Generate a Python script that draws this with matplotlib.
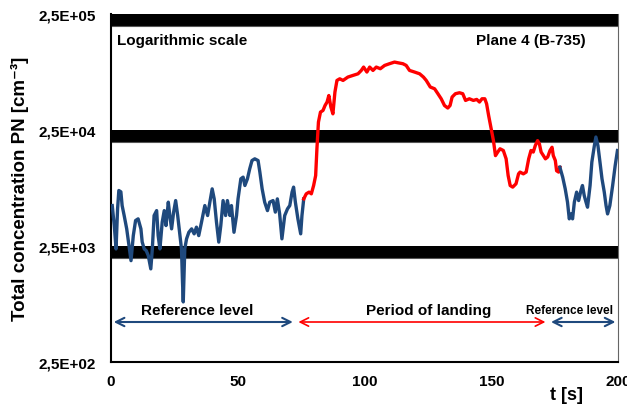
import numpy as np
from matplotlib import pyplot as plt

# reference level before landing
t_ref1 = [0.5, 1.3, 2.0, 2.6, 3.1, 3.9, 4.4, 5.2, 6.2, 7.1,
          7.9, 8.8, 9.7, 10.7, 11.8, 12.3, 13.1, 13.9, 14.7, 15.7,
          16.3, 17.0, 18.0, 18.6, 19.3, 20.2, 21.0, 21.7, 22.6, 23.2,
          23.9, 24.7, 25.5, 26.3, 27.2, 27.8, 28.2, 28.5, 29.1, 29.8,
          30.7, 31.8, 32.8, 33.7, 34.6, 35.7,
          37.0, 38.1, 39.0, 39.9, 40.7, 41.6, 42.5, 43.3, 44.2, 45.2,
          45.9, 46.9, 47.5, 48.5, 49.5, 50.1, 51.2, 52.1, 52.8, 53.8,
          54.7, 55.6, 56.7, 58.0, 58.7, 59.6, 60.6, 61.7, 62.6, 63.9,
          64.8, 65.6, 66.5, 67.4, 68.5, 69.6, 70.5, 71.4, 72.0, 72.7,
          73.7, 74.8, 75.3, 76.0]
n_ref1 = [5560, 3735, 2350, 5210, 7500, 7300, 5560, 4560, 3500, 2510,
          1860, 3060, 4130, 4270, 3500, 2700, 2350, 2270, 2060, 1580,
          2350, 4560, 5030, 3060, 2350, 4000, 5030, 3735, 5950, 4560,
          3500, 4880, 6140, 4560, 3060, 2350, 1220, 820, 2350, 2870,
          3270, 3500, 3170, 3620, 3060, 4000,
          5560, 4560, 5980, 7750, 6350, 4000, 2690, 3735, 6140, 4560,
          6140, 4560, 5560, 3270, 4560, 6350, 9460, 9780, 8280, 9460,
          11530, 13600, 14070, 13600, 10810, 7750, 5950, 5030, 5950, 6140,
          4880, 6350, 4710, 2870, 4560, 5210, 5560, 7260, 8020, 5950,
          4270, 3170, 4560, 6350]

# period of landing
t_land = [76.0, 77.0, 78.1, 79.0, 79.9, 80.7, 81.2, 81.8, 82.6, 83.6,
          84.4, 85.2, 85.9, 86.7, 87.5, 88.3, 89.1, 90.2, 91.5, 93.4,
          95.4, 97.4, 98.7, 99.6, 100.9, 102.0, 103.3, 104.6, 106.2, 107.9,
          109.8, 111.8, 113.1, 115.1, 116.4, 117.7, 119.7, 121.7, 123.2, 124.3,
          125.9, 127.6, 128.9, 130.2, 131.5, 132.8, 133.7, 134.5, 135.8, 137.4,
          138.7, 139.8, 141.3, 142.9, 144.2, 145.3, 146.3, 147.4, 148.1, 148.9,
          149.9, 150.8, 151.6, 152.5, 153.4, 154.7, 155.8, 156.6, 157.4, 158.4,
          159.7, 160.7, 161.3, 162.6, 163.7, 164.7, 165.6, 166.5, 167.3, 168.2,
          168.9, 169.6, 170.5, 171.3, 172.2, 173.1, 173.9, 174.4, 175.2, 175.7,
          176.5, 177.0]
n_land = [6350, 7020, 7260, 7020, 8280, 10090, 17180, 29200, 35600, 36800,
          40600, 43500, 49500, 39400, 34400, 53000, 66800, 69000, 66800, 71400,
          73800, 76200, 81500, 87100, 78900, 87100, 81500, 87100, 84300, 90000,
          93100, 96200, 94900, 93100, 90000, 81500, 78900, 76200, 71400, 66800,
          58600, 56600, 51300, 46400, 40600, 38600, 40600, 48000, 51300, 52300,
          51300, 44900, 46400, 44900, 45800, 43500, 46400, 46400, 42000, 33300,
          25600, 20200, 15000, 16100, 17180, 16600, 14070, 10090, 8280, 8020,
          8570, 10440, 10810, 10440, 10810, 14070, 16600, 16100, 18300, 20200,
          19000, 16100, 15000, 14070, 14600, 16600, 17700, 15000, 13600, 11100,
          10810, 11900]

# reference level after landing
t_ref2 = [177.0, 178.1, 179.1, 180.0, 180.7, 181.4, 182.0, 182.7, 183.6, 184.4,
          185.3, 185.9, 186.6, 187.3, 187.9, 188.9, 189.6, 190.6, 191.2, 192.0,
          192.8, 193.6, 194.5, 195.2, 195.8, 196.7, 197.8, 198.8, 199.7]
n_ref2 = [11900, 9780, 7750, 5950, 4270, 4710, 4270, 5950, 7260, 6140,
          7500, 8280, 6780, 5950, 5380, 8280, 13200, 18300, 21700, 18300,
          13200, 9460, 7260, 5560, 4710, 5560, 8280, 12300, 16600]

y_ticks = [2.5e2, 2.5e3, 2.5e4, 2.5e5]
y_ticklabels = ['2,5E+02', '2,5E+03', '2,5E+04', '2,5E+05']
x_ticks = [0, 50, 100, 150, 200]

azul = '#1F497D'
rojo = '#FF0000'

plt.rcParams['font.family'] = ['Liberation Sans', 'DejaVu Sans']
plt.rcParams['font.weight'] = 'bold'

fig = plt.figure(figsize=(6.27, 4.10), dpi=100)
ax = fig.add_axes([0.177, 0.1154, 0.809, 0.848])
ax.set_yscale('log')
ax.set_xlim(0, 200)
ax.set_ylim(250, 250000)

# bandas negras en cada decada
for v in y_ticks[1:]:
    ax.axhspan(v * 0.783, v, color='black', lw=0, zorder=1)
    ax.axhline(v * 0.783, color='#555555', lw=0.8, zorder=1)

ax.plot(t_ref1, n_ref1, color=azul, lw=2.4, zorder=3, solid_joinstyle='round')
ax.plot(t_land, n_land, color=rojo, lw=2.4, zorder=3, solid_joinstyle='round')
ax.plot(t_ref2, n_ref2, color=azul, lw=2.4, zorder=3, solid_joinstyle='round')

ax.set_xticks(x_ticks)
ax.set_xticklabels([str(x) for x in x_ticks], fontsize=11, fontweight='bold')
ax.set_yticks(y_ticks)
ax.set_yticklabels(y_ticklabels, fontsize=11, fontweight='bold')
ax.yaxis.set_minor_locator(plt.NullLocator())
ax.tick_params(axis='both', length=0)
ax.tick_params(axis='y', pad=11)
ax.tick_params(axis='x', pad=9)

ax.spines['top'].set_visible(False)
ax.spines['left'].set_linewidth(1.5)
ax.spines['bottom'].set_linewidth(1.5)
ax.spines['right'].set_color('#666666')
ax.spines['right'].set_linewidth(0.8)

ax.set_ylabel('Total concentration PN [cm\u207b\u00b3]', fontsize=13.5,
              fontweight='bold', labelpad=7)
fig.text(0.903, 0.025, 't [s]', fontsize=13, fontweight='bold', ha='center')

ax.text(2.5, 1.5e5, 'Logarithmic scale', fontsize=11, fontweight='bold', va='center')
ax.text(187, 1.5e5, 'Plane 4 (B-735)', fontsize=11, fontweight='bold',
        va='center', ha='right')

# flechas de periodos
y_fl = 550
ax.annotate('', xy=(0, y_fl), xytext=(72.8, y_fl),
            arrowprops=dict(arrowstyle='<->', color=azul, lw=1.5, mutation_scale=15))
ax.annotate('', xy=(72.8, y_fl), xytext=(172.4, y_fl),
            arrowprops=dict(arrowstyle='<->', color=rojo, lw=1.2, mutation_scale=15))
ax.annotate('', xy=(172.4, y_fl), xytext=(200, y_fl),
            arrowprops=dict(arrowstyle='<->', color=azul, lw=1.5, mutation_scale=15))
ax.text(33.9, 700, 'Reference level', fontsize=11, fontweight='bold',
        ha='center', va='center')
ax.text(125.2, 700, 'Period of landing', fontsize=11, fontweight='bold',
        ha='center', va='center')
ax.text(180.8, 700, 'Reference level', fontsize=8.5, fontweight='bold',
        ha='center', va='center')

fig.savefig('out.png', dpi=100)
